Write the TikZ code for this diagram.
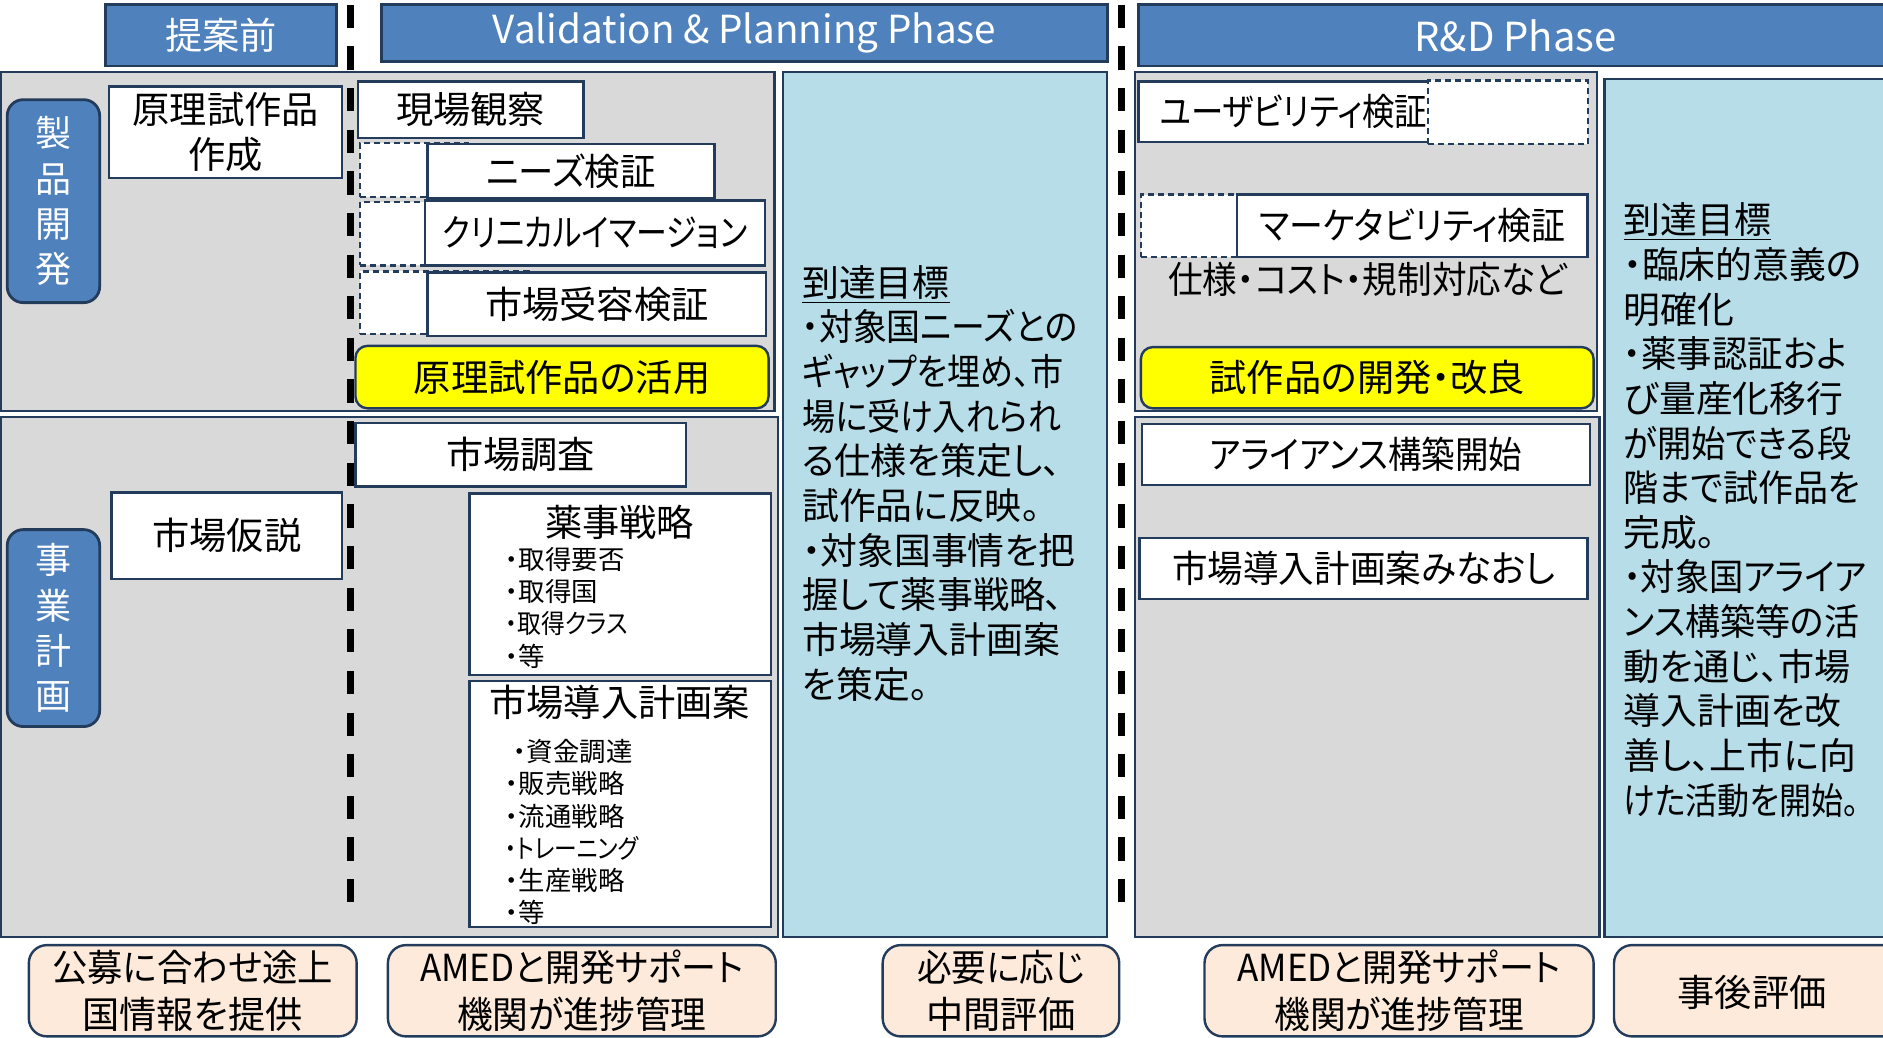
\documentclass[tikz,border=0pt]{standalone}
\usepackage{fontspec}
\usepackage{graphicx}
\setmainfont{Noto Sans CJK JP}[RawFeature=+palt]
\definecolor{hblue}{RGB}{79,129,189}
\definecolor{navy}{RGB}{36,60,92}
\definecolor{pgray}{RGB}{217,217,217}
\definecolor{lblue}{RGB}{183,221,232}
\definecolor{peach}{RGB}{253,234,218}
\definecolor{yel}{RGB}{255,255,0}
\newcommand\jf[2]{\fontsize{#1}{#2}\selectfont\lineskip=0pt\lineskiplimit=-20pt}
\newcommand\sx[2]{\scalebox{#1}[1]{#2}}
\begin{document}
\begin{tikzpicture}[x=0.6pt,y=-0.6pt,
 every node/.style={inner sep=0pt, outer sep=0pt},
 rect/.style n args={4}{at={({(#1+#3)/2},{(#2+#4)/2})}, minimum width={(#3-#1)*0.6pt}, minimum height={(#4-#2)*0.6pt}},
 panel/.style={draw=navy, line width=1.2pt, fill=pgray},
 goal/.style={draw=navy, line width=1.2pt, fill=lblue},
 hdr/.style={draw=navy, line width=1.4pt, fill=hblue, text=white, font=\jf{18.6pt}{22pt}},
 hdrlat/.style={hdr, font=\jf{20pt}{22pt}},
 rowlbl/.style={draw=navy, line width=1.4pt, fill=hblue, rounded corners=8pt, text=white, align=center, font=\jf{18pt}{22.6pt}},
 bx/.style={draw=navy, line width=1.2pt, fill=white, align=center, font=\jf{18.6pt}{22.8pt}},
 dbx/.style={draw=navy, line width=1.1pt, fill=white, dash pattern=on 3pt off 2pt},
 yb/.style={draw=navy, line width=1.2pt, fill=yel, rounded corners=6pt, font=\jf{18.6pt}{22.5pt}},
 ft/.style={draw=navy, line width=1.2pt, fill=peach, rounded corners=9pt, align=center, font=\jf{18.6pt}{23.4pt}},
 divider/.style={line width=3.3pt, dash pattern=on 11.6pt off 9.2pt},
 goaltxt/.style={anchor=north west, align=left, font=\jf{18.4pt}{22.3pt}},
 plain/.style={font=\jf{18.6pt}{22.5pt}},
 small/.style={anchor=west, align=left, font=\jf{13.2pt}{16.1pt}},
]
\useasboundingbox (0,0) rectangle (1568,864);
% panels
\node[panel, rect={1}{60}{645}{342}] (pdev1) {};
\node[panel, rect={1}{347}{648}{780}] (pbiz1) {};
\node[goal, rect={652}{60}{922}{780}] (goal1) {};
\node[panel, rect={945}{60}{1330}{342}] (pdev2) {};
\node[panel, rect={945}{347}{1332}{780}] (pbiz2) {};
\node[goal, rect={1336}{66}{1590}{780}] (goal2) {};
% headers
\node[hdr, rect={88}{4}{280}{55}] (h0) {提案前};
\node[hdrlat, rect={318}{4}{922}{51}, font=\jf{19.3pt}{22pt}] (h1) {Validation \& Planning Phase};
\node[hdrlat, rect={948}{4}{1576}{55}] (h2) {R\&D Phase};
% dividers
\draw[divider] (292,4) -- (292,762);
\draw[divider] (934,4) -- (934,762);
% row labels
\node[rowlbl, rect={6}{83}{83}{252}] (r1) {製\\品\\開\\発};
\node[rowlbl, rect={6}{441}{83}{605}] (r2) {事\\業\\計\\画};
% pre-proposal
\node[bx, rect={91}{72}{285}{148}] (proto) {原理試作品\\作成};
\node[bx, rect={93}{410}{285}{482}] (hypo) {市場仮説};
% validation upper
\node[bx, rect={298}{68}{486}{115}] (obs) {現場観察};
\node[dbx, rect={300}{119}{390}{164}] (d1) {};
\node[bx, rect={356}{120}{595}{165}] (needs) {\sx{0.95}{ニーズ検証}};
\node[dbx, rect={300}{168}{390}{221}] (d2) {};
\node[bx, rect={354}{167}{637}{221}] (clin) {\sx{0.83}{クリニカルイマージョン}};
\node[dbx, rect={300}{226}{440}{278}] (d3) {};
\node[bx, rect={356}{227}{638}{280}] (accept) {市場受容検証};
\node[yb, rect={296}{288}{640}{340}] (use1) {原理試作品の活用};
% validation lower
\node[bx, rect={296}{352}{571}{405}] (survey) {市場調査};
\node[bx, rect={391}{411}{642}{562}] (reg) {};
\node[plain] (regt) at (516,435) {薬事戦略};
\node[small] (regl) at (421,506) {・取得要否\\・取得国\\\sx{0.9}{・取得クラス}\\・等};
\node[bx, rect={391}{567}{642}{772}] (plan) {};
\node[plain] (plant) at (516,585) {市場導入計画案};
\node[small] (planl) at (421,693) {\hspace{4pt}・資金調達\\・販売戦略\\・流通戦略\\\sx{0.86}{・トレーニング}\\・生産戦略\\・等};
% goal 1
\node[goaltxt] (g1) at (668,221) {\underline{到達目標}\\\sx{0.92}{・対象国ニーズとの}\\\sx{0.9}{ギャップを埋め、市}\\\sx{0.9}{場に受け入れられ}\\\sx{0.98}{る仕様を策定し、}\\試作品に反映。\\・対象国事情を把\\\sx{0.98}{握して薬事戦略、}\\市場導入計画案\\を策定。};
% R&D upper
\node[bx, rect={948}{68}{1190}{118}] (usab) {};
\node[dbx, rect={1189}{67}{1322}{120}] (d4) {};
\node[plain] (usabt) at (1077,93) {\sx{0.87}{ユーザビリティ検証}};
\node[dbx, rect={950}{162}{1046}{214}] (d5) {};
\node[bx, rect={1030}{162}{1322}{214}] (mkt) {\sx{0.91}{マーケタビリティ検証}};
\node[plain] (spec) at (1139,233) {\sx{0.93}{仕様・コスト・規制対応など}};
\node[yb, rect={950}{289}{1327}{340}] (use2) {試作品の開発・改良};
% R&D lower
\node[bx, rect={951}{353}{1324}{404}] (alli) {\sx{0.9}{アライアンス構築開始}};
\node[bx, rect={949}{448}{1322}{499}] (rev) {\sx{0.955}{市場導入計画案みなおし}};
% goal 2
\node[goaltxt] (g2) at (1352,169) {\underline{到達目標}\\・臨床的意義の\\明確化\\\sx{0.96}{・薬事認証およ}\\び量産化移行\\\sx{0.93}{が開始できる段}\\\sx{0.95}{階まで試作品を}\\完成。\\\sx{0.93}{・対象国アライア}\\\sx{0.95}{ンス構築等の活}\\\sx{0.98}{動を通じ、市場}\\導入計画を改\\善し、上市に向\\\sx{0.87}{けた活動を開始。}};
% footer
\node[ft, rect={24}{787}{297}{863}] (f1) {\sx{0.95}{公募に合わせ途上}\\国情報を提供};
\node[ft, rect={323}{787}{646}{863}] (f2) {\sx{0.94}{AMEDと開発サポート}\\\sx{0.96}{機関が進捗管理}};
\node[ft, rect={735}{787}{932}{863}] (f3) {\sx{0.93}{必要に応じ}\\中間評価};
\node[ft, rect={1003}{787}{1327}{863}] (f4) {\sx{0.94}{AMEDと開発サポート}\\\sx{0.96}{機関が進捗管理}};
\node[ft, rect={1344}{787}{1590}{863}] (f5) {};
\node[plain] (f5t) at (1459,826) {事後評価};
\end{tikzpicture}
\end{document}
